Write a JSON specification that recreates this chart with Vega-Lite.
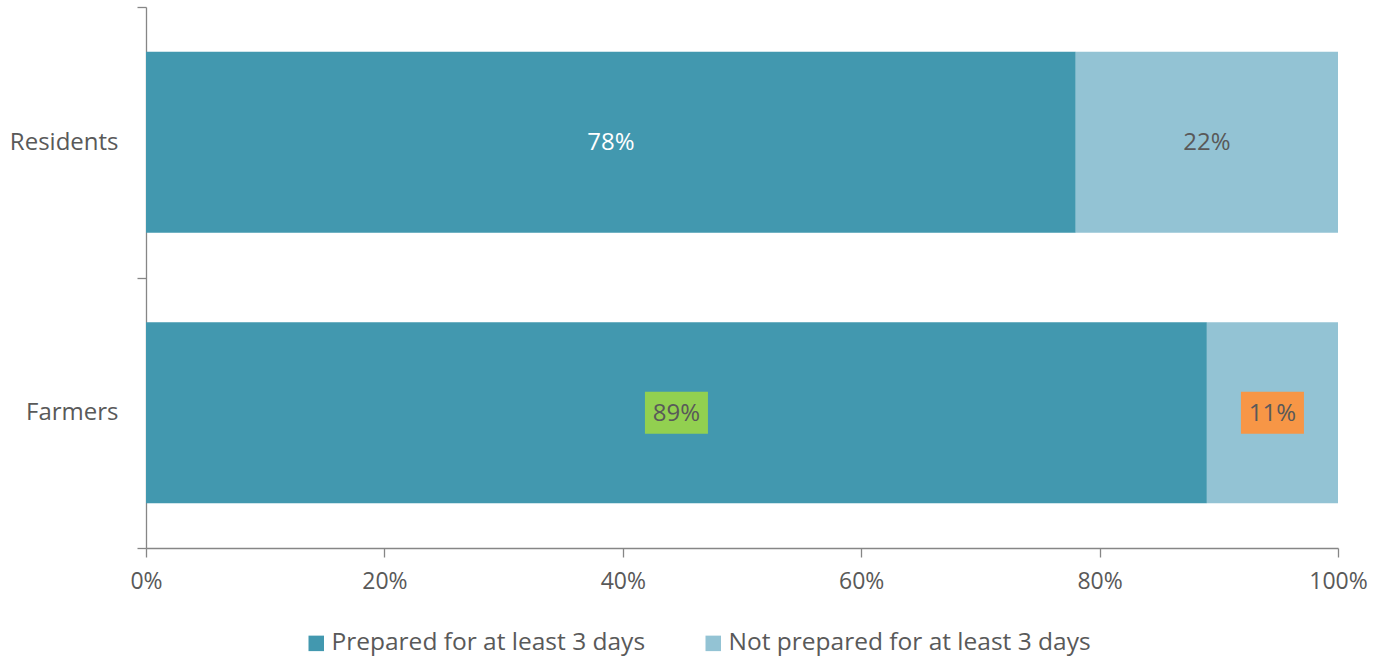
{
  "$schema": "https://vega.github.io/schema/vega-lite/v6.json",
  "width": 1192,
  "height": 541,
  "autosize": {"type": "none"},
  "padding": {"left": 146, "top": 7, "right": 48, "bottom": 108},
  "background": "white",
  "config": {
    "font": "Open Sans",
    "view": {"stroke": null},
    "axis": {"labelColor": "#595959", "domainColor": "#868686", "tickColor": "#868686", "domainWidth": 1.3, "tickWidth": 1.3}
  },
  "data": {
    "values": [
      {"group": "Residents", "status": "Prepared for at least 3 days", "value": 0.78, "label": "78%", "flag": "none"},
      {"group": "Residents", "status": "Not prepared for at least 3 days", "value": 0.22, "label": "22%", "flag": "none"},
      {"group": "Farmers", "status": "Prepared for at least 3 days", "value": 0.89, "label": "89%", "flag": "better"},
      {"group": "Farmers", "status": "Not prepared for at least 3 days", "value": 0.11, "label": "11%", "flag": "worse"}
    ]
  },
  "transform": [
    {"calculate": "datum.status == 'Prepared for at least 3 days' ? 0 : 1", "as": "order"},
    {"stack": "value", "groupby": ["group"], "sort": [{"field": "order"}], "as": ["v0", "v1"]},
    {"calculate": "(datum.v0 + datum.v1) / 2", "as": "mid"}
  ],
  "encoding": {
    "y": {
      "field": "group",
      "type": "nominal",
      "sort": ["Residents", "Farmers"],
      "title": null,
      "scale": {"paddingInner": 0, "paddingOuter": 0},
      "axis": {"tickBand": "extent", "tickSize": 9, "labelPadding": 19, "labelFontSize": 24, "labelAngle": 0}
    }
  },
  "layer": [
    {
      "mark": {"type": "bar", "height": {"band": 0.67}},
      "encoding": {
        "x": {
          "field": "v0",
          "type": "quantitative",
          "scale": {"domain": [0, 1], "nice": false},
          "title": null,
          "axis": {"format": ".0%", "values": [0, 0.2, 0.4, 0.6, 0.8, 1], "grid": false, "tickSize": 9, "labelPadding": 13, "labelFontSize": 23, "labelFlush": false}
        },
        "x2": {"field": "v1"},
        "color": {
          "field": "status",
          "type": "nominal",
          "sort": ["Prepared for at least 3 days", "Not prepared for at least 3 days"],
          "scale": {"domain": ["Prepared for at least 3 days", "Not prepared for at least 3 days"], "range": ["#4298AF", "#93C3D4"]},
          "legend": {
            "title": null,
            "orient": "none",
            "legendX": 158,
            "legendY": 624,
            "direction": "horizontal",
            "symbolType": "square",
            "symbolSize": 240,
            "symbolStrokeWidth": 0,
            "labelFontSize": 24.5,
            "labelLimit": 0,
            "labelColor": "#595959",
            "labelOffset": 3,
            "columnPadding": 55
          }
        }
      }
    },
    {
      "transform": [{"filter": "datum.flag != 'none'"}],
      "mark": {"type": "point", "shape": "M-1,-0.667L1,-0.667L1,0.667L-1,0.667Z", "filled": true, "opacity": 1, "size": 3969},
      "encoding": {
        "x": {"field": "mid", "type": "quantitative"},
        "fill": {
          "field": "flag",
          "type": "nominal",
          "scale": {"domain": ["better", "worse"], "range": ["#92D050", "#F79646"]},
          "legend": null
        }
      }
    },
    {
      "mark": {"type": "text", "fontSize": 24, "baseline": "middle", "align": "center", "dy": 1},
      "encoding": {
        "x": {"field": "mid", "type": "quantitative"},
        "text": {"field": "label"},
        "color": {
          "condition": {"test": "datum.group == 'Residents' && datum.order == 0", "value": "#FFFFFF"},
          "value": "#595959"
        }
      }
    }
  ],
  "resolve": {"scale": {"color": "independent", "fill": "independent"}}
}
